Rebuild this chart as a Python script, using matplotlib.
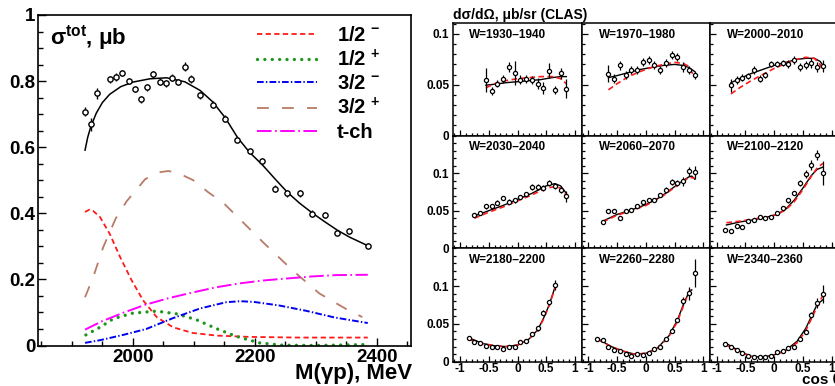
import numpy as np
import matplotlib
matplotlib.use('Agg')
import matplotlib.pyplot as plt
from matplotlib.ticker import MultipleLocator

plt.rcParams['font.family'] = ['Liberation Sans', 'DejaVu Sans']
plt.rcParams['font.weight'] = 'bold'
plt.rcParams['mathtext.fontset'] = 'custom'
plt.rcParams['mathtext.rm'] = 'Liberation Sans:bold'
plt.rcParams['mathtext.bf'] = 'Liberation Sans:bold'
plt.rcParams['mathtext.it'] = 'Liberation Sans:bold'
plt.rcParams['axes.unicode_minus'] = False
plt.rcParams['lines.scale_dashes'] = False

# ---- left panel: total cross section ----
w_data = [1921.6, 1931.4, 1941.7, 1961.9, 1972.2, 1982.5, 1993.0, 2003.3, 2013.6, 2023.4,
          2033.8, 2044.1, 2053.9, 2064.2, 2074.7, 2085.0, 2094.8, 2110.0, 2130.7, 2150.8,
          2171.0, 2191.7, 2212.4, 2232.5, 2252.8, 2273.4, 2293.6, 2314.2, 2334.5, 2354.6, 2385.1]
sig_tot = [0.707, 0.669, 0.763, 0.805, 0.811, 0.824, 0.800, 0.776, 0.745, 0.781,
           0.820, 0.798, 0.793, 0.810, 0.797, 0.844, 0.807, 0.757, 0.729, 0.686,
           0.623, 0.588, 0.558, 0.475, 0.460, 0.460, 0.399, 0.395, 0.341, 0.345, 0.302]
sig_err = [0.014, 0.020, 0.016, 0.011, 0.012, 0.010, 0.010, 0.010, 0.010, 0.010,
           0.010, 0.010, 0.010, 0.010, 0.010, 0.013, 0.012, 0.010, 0.010, 0.010,
           0.008, 0.008, 0.010, 0.012, 0.010, 0.012, 0.010, 0.010, 0.008, 0.008, 0.008]

fit_w = [1921.6, 1926, 1931, 1940, 1950, 1962, 1980, 2000, 2028, 2055, 2085, 2110, 2131,
         2151, 2172, 2191, 2213, 2233, 2253, 2273, 2294, 2314, 2335, 2355, 2385]
fit_sig = [0.591, 0.630, 0.662, 0.703, 0.735, 0.760, 0.783, 0.797, 0.807, 0.810, 0.798,
           0.772, 0.737, 0.690, 0.628, 0.585, 0.545, 0.504, 0.464, 0.431, 0.401, 0.375,
           0.349, 0.328, 0.302]

hm_w = [1921.6, 1928.6, 1935, 1946, 1962, 1979, 1998, 2017, 2039, 2066, 2098, 2137, 2191, 2273, 2385]
hm_sig = [0.404, 0.411, 0.407, 0.389, 0.338, 0.268, 0.197, 0.136, 0.086, 0.055, 0.038, 0.030,
          0.026, 0.024, 0.024]

hp_w = [1923, 1946, 1968, 2000, 2039, 2071, 2104, 2137, 2169, 2207, 2245, 2300, 2385]
hp_sig = [0.032, 0.055, 0.081, 0.098, 0.104, 0.096, 0.078, 0.051, 0.028, 0.008, 0.001, 0.000, 0.003]

tm_w = [1921.6, 1946, 1984, 2022, 2066, 2110, 2153, 2176, 2198, 2240, 2284, 2330, 2385]
tm_sig = [0.008, 0.016, 0.032, 0.050, 0.083, 0.112, 0.131, 0.134, 0.132, 0.121, 0.105, 0.085, 0.068]

tp_w = [1921.6, 1935, 1951.5, 1972, 1990, 2006, 2020, 2039, 2058, 2074, 2099, 2124, 2148,
        2170, 2213, 2262, 2306, 2349, 2376]
tp_sig = [0.146, 0.207, 0.298, 0.385, 0.437, 0.472, 0.503, 0.523, 0.528, 0.522, 0.500, 0.463,
          0.432, 0.392, 0.313, 0.227, 0.157, 0.111, 0.086]

tch_w = [1921.6, 1949, 1984, 2020, 2058, 2097, 2136, 2175, 2215, 2254, 2294, 2333, 2385]
tch_sig = [0.048, 0.073, 0.099, 0.123, 0.143, 0.160, 0.176, 0.188, 0.197, 0.203, 0.209, 0.213, 0.214]

legend_labels = [r'1/2 $^{-}$', r'1/2 $^{+}$', r'3/2 $^{-}$', r'3/2 $^{+}$', 't-ch']

# ---- right panels: CLAS dsigma/dOmega ----
bins = ['W=1930\u20131940', 'W=1970\u20131980', 'W=2000\u20132010',
        'W=2030\u20132040', 'W=2060\u20132070', 'W=2100\u20132120',
        'W=2180\u20132200', 'W=2260\u20132280', 'W=2340\u20132360']

pts_cos = [
    [-0.55, -0.45, -0.35, -0.25, -0.15, -0.05, 0.05, 0.15, 0.25, 0.35, 0.45, 0.55, 0.65, 0.75, 0.85],
    [-0.65, -0.55, -0.45, -0.35, -0.25, -0.15, -0.05, 0.05, 0.15, 0.25, 0.35, 0.45, 0.55, 0.65, 0.75, 0.85],
    [-0.75, -0.65, -0.55, -0.45, -0.35, -0.25, -0.15, -0.05, 0.05, 0.15, 0.25, 0.35, 0.45, 0.55, 0.65, 0.75, 0.85],
    [-0.75, -0.65, -0.55, -0.45, -0.35, -0.25, -0.15, -0.05, 0.05, 0.15, 0.25, 0.35, 0.45, 0.55, 0.65, 0.75, 0.85],
    [-0.75, -0.65, -0.55, -0.45, -0.35, -0.25, -0.15, -0.05, 0.05, 0.15, 0.25, 0.35, 0.45, 0.55, 0.65, 0.75, 0.85],
    [-0.85, -0.75, -0.65, -0.55, -0.45, -0.35, -0.25, -0.15, -0.05, 0.05, 0.15, 0.25, 0.35, 0.45, 0.55, 0.65, 0.75, 0.85],
    [-0.85, -0.75, -0.65, -0.55, -0.45, -0.35, -0.25, -0.15, -0.05, 0.05, 0.15, 0.25, 0.35, 0.45, 0.55, 0.65],
    [-0.85, -0.75, -0.65, -0.55, -0.45, -0.35, -0.25, -0.15, -0.05, 0.05, 0.15, 0.25, 0.35, 0.45, 0.55, 0.65, 0.75, 0.85],
    [-0.85, -0.75, -0.65, -0.55, -0.45, -0.35, -0.25, -0.15, -0.05, 0.05, 0.15, 0.25, 0.35, 0.45, 0.55, 0.65, 0.75, 0.85],
]
pts_val = [
    [0.0545, 0.0439, 0.0512, 0.0554, 0.0677, 0.0617, 0.0551, 0.0554, 0.0545, 0.0512, 0.0469, 0.0637, 0.0452, 0.0611, 0.0462],
    [0.0610, 0.0561, 0.0693, 0.0594, 0.0644, 0.0644, 0.0726, 0.0743, 0.0693, 0.0644, 0.0710, 0.0792, 0.0776, 0.0677, 0.0644, 0.0594],
    [0.0495, 0.0545, 0.0571, 0.0584, 0.0644, 0.0561, 0.0594, 0.0703, 0.0700, 0.0710, 0.0700, 0.0743, 0.0677, 0.0693, 0.0710, 0.0677, 0.0683],
    [0.0444, 0.0467, 0.0556, 0.0564, 0.0609, 0.0671, 0.0622, 0.0636, 0.0680, 0.0720, 0.0813, 0.0813, 0.0800, 0.0867, 0.0822, 0.0778, 0.0689],
    [0.0347, 0.0498, 0.0498, 0.0400, 0.0498, 0.0511, 0.0569, 0.0613, 0.0644, 0.0644, 0.0711, 0.0778, 0.0876, 0.0867, 0.0889, 0.1022, 0.1009],
    [0.0244, 0.0231, 0.0298, 0.0284, 0.0369, 0.0378, 0.0413, 0.0400, 0.0413, 0.0467, 0.0533, 0.0636, 0.0733, 0.0867, 0.0991, 0.1111, 0.1244, 0.1000],
    [0.0308, 0.0256, 0.0242, 0.0211, 0.0198, 0.0198, 0.0167, 0.0194, 0.0189, 0.0256, 0.0273, 0.0361, 0.0440, 0.0648, 0.0784, 0.1009],
    [0.0295, 0.0286, 0.0198, 0.0154, 0.0145, 0.0101, 0.0075, 0.0097, 0.0084, 0.0110, 0.0163, 0.0198, 0.0300, 0.0405, 0.0551, 0.0802, 0.0903, 0.1176],
    [0.0233, 0.0198, 0.0154, 0.0110, 0.0075, 0.0057, 0.0066, 0.0066, 0.0075, 0.0132, 0.0141, 0.0176, 0.0198, 0.0295, 0.0396, 0.0617, 0.0780, 0.0894],
]
pts_err = [
    [0.0115, 0.004, 0.003, 0.004, 0.005, 0.012, 0.004, 0.004, 0.004, 0.005, 0.006, 0.0075, 0.004, 0.005, 0.009],
    [0.008, 0.004, 0.0045, 0.004, 0.004, 0.004, 0.004, 0.004, 0.004, 0.004, 0.004, 0.004, 0.004, 0.005, 0.004, 0.004],
    [0.0066, 0.004, 0.003, 0.003, 0.004, 0.003, 0.003, 0.003, 0.003, 0.003, 0.004, 0.004, 0.004, 0.004, 0.005, 0.005, 0.006],
    [0.002, 0.003, 0.003, 0.003, 0.003, 0.003, 0.003, 0.003, 0.003, 0.003, 0.004, 0.004, 0.004, 0.004, 0.004, 0.0045, 0.0067],
    [0.002, 0.003, 0.003, 0.002, 0.002, 0.002, 0.002, 0.002, 0.003, 0.003, 0.003, 0.004, 0.004, 0.004, 0.0065, 0.0065, 0.009],
    [0.002, 0.002, 0.002, 0.002, 0.002, 0.002, 0.002, 0.002, 0.002, 0.002, 0.002, 0.003, 0.003, 0.004, 0.005, 0.0065, 0.0065, 0.0155],
    [0.002, 0.002, 0.002, 0.002, 0.002, 0.002, 0.002, 0.002, 0.002, 0.002, 0.002, 0.002, 0.003, 0.003, 0.0035, 0.0066],
    [0.002, 0.002, 0.002, 0.002, 0.002, 0.002, 0.002, 0.002, 0.002, 0.002, 0.002, 0.002, 0.002, 0.002, 0.003, 0.0055, 0.009, 0.0185],
    [0.002, 0.002, 0.002, 0.002, 0.002, 0.002, 0.002, 0.002, 0.002, 0.002, 0.002, 0.002, 0.002, 0.002, 0.002, 0.004, 0.0066, 0.012],
]

curve_cos = [
    [-0.55, -0.4, -0.2, 0.0, 0.2, 0.4, 0.6, 0.75, 0.85],
    [-0.65, -0.5, -0.3, -0.1, 0.1, 0.3, 0.5, 0.65, 0.75, 0.85],
    [-0.75, -0.6, -0.4, -0.2, 0.0, 0.2, 0.4, 0.55, 0.7, 0.8, 0.85],
    [-0.75, -0.5, -0.25, 0.0, 0.25, 0.5, 0.65, 0.75, 0.85],
    [-0.75, -0.5, -0.25, 0.0, 0.25, 0.5, 0.65, 0.75, 0.8, 0.85],
    [-0.83, -0.6, -0.35, -0.1, 0.05, 0.2, 0.35, 0.5, 0.65, 0.75, 0.85],
    [-0.83, -0.6, -0.4, -0.2, 0.0, 0.2, 0.35, 0.45, 0.55, 0.65],
    [-0.83, -0.6, -0.4, -0.2, 0.0, 0.2, 0.4, 0.55, 0.65, 0.75, 0.8],
    [-0.83, -0.6, -0.4, -0.2, 0.0, 0.2, 0.4, 0.55, 0.65, 0.75, 0.85],
]
curve_black = [
    [0.0495, 0.0505, 0.052, 0.053, 0.054, 0.055, 0.057, 0.058, 0.058],
    [0.057, 0.059, 0.062, 0.065, 0.067, 0.069, 0.070, 0.069, 0.067, 0.063],
    [0.052, 0.056, 0.061, 0.065, 0.069, 0.072, 0.075, 0.076, 0.076, 0.073, 0.069],
    [0.043, 0.050, 0.057, 0.065, 0.073, 0.083, 0.086, 0.083, 0.073],
    [0.036, 0.045, 0.051, 0.058, 0.068, 0.082, 0.090, 0.095, 0.096, 0.092],
    [0.031, 0.035, 0.038, 0.042, 0.045, 0.052, 0.064, 0.080, 0.097, 0.105, 0.108],
    [0.031, 0.024, 0.021, 0.020, 0.022, 0.030, 0.042, 0.057, 0.075, 0.098],
    [0.030, 0.020, 0.014, 0.010, 0.011, 0.018, 0.034, 0.055, 0.075, 0.092, 0.095],
    [0.024, 0.014, 0.007, 0.006, 0.009, 0.015, 0.027, 0.044, 0.060, 0.076, 0.082],
]
curve_red = [
    [0.047, 0.051, 0.054, 0.056, 0.057, 0.058, 0.058, 0.056, 0.051],
    [0.045, 0.051, 0.058, 0.063, 0.067, 0.070, 0.072, 0.071, 0.068, 0.057],
    [0.041, 0.047, 0.054, 0.060, 0.066, 0.071, 0.075, 0.077, 0.076, 0.070, 0.063],
    [0.040, 0.048, 0.055, 0.063, 0.071, 0.080, 0.082, 0.080, 0.070],
    [0.035, 0.044, 0.050, 0.057, 0.067, 0.081, 0.089, 0.094, 0.094, 0.093],
    [0.034, 0.036, 0.039, 0.042, 0.045, 0.051, 0.062, 0.078, 0.096, 0.107, 0.113],
    [0.029, 0.024, 0.021, 0.020, 0.022, 0.030, 0.041, 0.056, 0.074, 0.097],
    [0.029, 0.020, 0.014, 0.010, 0.011, 0.017, 0.033, 0.053, 0.073, 0.092, 0.100],
    [0.022, 0.013, 0.007, 0.006, 0.009, 0.014, 0.025, 0.041, 0.057, 0.073, 0.088],
]
row_ymax = [0.1105, 0.150, 0.150]

# ---- figure ----
W, H = 835, 386
fig = plt.figure(figsize=(W / 100, H / 100), dpi=100)


def px_axes(left, top, right, bottom):
    return fig.add_axes([left / W, 1 - bottom / H, (right - left) / W, (bottom - top) / H])


def fmt(v):
    return ('%g' % v)


ax = px_axes(38.3, 15, 410.5, 345.5)
ax.errorbar(w_data, sig_tot, yerr=sig_err, fmt='o', ms=3.8, mfc='white', mec='black',
            mew=1.0, ecolor='black', elinewidth=1.0, capsize=0, zorder=5)
ax.plot(fit_w, fit_sig, color='black', lw=1.1, zorder=4)
ax.plot(hm_w, hm_sig, color='#ff1a1a', lw=1.3, dashes=(3.8, 2.4), label=legend_labels[0])
ax.plot(hp_w, hp_sig, color='#1e961e', lw=2.4, dashes=(0.01, 5.3), dash_capstyle='round',
        label=legend_labels[1])
ax.plot(tm_w, tm_sig, color='#0000f0', lw=1.4, dashes=(4.8, 1.6, 1.0, 1.6),
        label=legend_labels[2])
ax.plot(tp_w, tp_sig, color='#b97b68', lw=1.3, dashes=(8.5, 9.5), label=legend_labels[3])
ax.plot(tch_w, tch_sig, color='#ff00ff', lw=1.4, dashes=(10.5, 2.5, 1.2, 2.5),
        label=legend_labels[4])

ax.set_xlim(1845, 2455)
ax.set_ylim(0, 1)
ax.set_xticks([2000, 2200, 2400])
ax.set_xticklabels([fmt(v) for v in [2000, 2200, 2400]])
ax.set_yticks([0, 0.2, 0.4, 0.6, 0.8, 1.0])
ax.set_yticklabels([fmt(v) for v in [0, 0.2, 0.4, 0.6, 0.8, 1.0]])
ax.xaxis.set_minor_locator(MultipleLocator(50))
ax.yaxis.set_minor_locator(MultipleLocator(0.05))
ax.tick_params(which='both', direction='in', labelsize=13.5, width=1.0)
ax.tick_params(which='major', length=6)
ax.tick_params(which='minor', length=3.5)
ax.tick_params(axis='y', pad=2)
ax.tick_params(axis='x', pad=2.5)
for sp in ax.spines.values():
    sp.set_linewidth(1.2)

ax.text(0.031, 0.912, r'σ$^{\mathbf{tot}}$, μb', transform=ax.transAxes, fontsize=16,
        va='baseline', ha='left')
ax.legend(loc='upper left', bbox_to_anchor=(0.5868, 0.967), frameon=False, fontsize=14.5,
          handlelength=2.98, handletextpad=1.0, labelspacing=0.2, borderpad=0,
          borderaxespad=0)
fig.text(412 / W, 1 - 379.5 / H, 'M(γp), MeV', ha='right', va='baseline', fontsize=16)

# right grid
col_left = [453.3, 581.6, 709.9]
col_w = 128.3
row_top = [23.3, 135.5, 248.3]
row_bot = [135.5, 248.3, 361.7]
label_x = [0.125, 0.135, 0.133]

for i in range(9):
    r, c = divmod(i, 3)
    a = px_axes(col_left[c], row_top[r], col_left[c] + col_w, row_bot[r])
    a.plot(curve_cos[i], curve_black[i], color='black', lw=1.0, zorder=3)
    a.plot(curve_cos[i], curve_red[i], color='#ff1a1a', lw=1.2, dashes=(4.0, 2.5), zorder=4)
    a.errorbar(pts_cos[i], pts_val[i], yerr=pts_err[i], fmt='o', ms=3.0, mfc='white',
               mec='black', mew=0.9, ecolor='black', elinewidth=0.9, capsize=0, zorder=5)
    a.set_xlim(-1.117, 1.115)
    a.set_ylim(0, row_ymax[r])
    a.set_xticks([-1, -0.5, 0, 0.5, 1])
    a.set_yticks([0, 0.05, 0.1])
    a.xaxis.set_minor_locator(MultipleLocator(0.1))
    a.yaxis.set_minor_locator(MultipleLocator(0.01))
    a.tick_params(which='both', direction='in', labelsize=8.5, width=0.9)
    a.tick_params(which='major', length=4.5)
    a.tick_params(which='minor', length=2.2)
    a.tick_params(axis='y', pad=3)
    a.tick_params(axis='x', pad=1.0)
    if c == 0:
        a.set_yticklabels([fmt(v) for v in [0, 0.05, 0.1]])
    else:
        a.set_yticklabels([])
    if r == 2:
        a.set_xticklabels([fmt(v) for v in [-1, -0.5, 0, 0.5, 1]])
    else:
        a.set_xticklabels([])
    for sp in a.spines.values():
        sp.set_linewidth(1.1)
    a.text(label_x[c], 0.898, bins[i], transform=a.transAxes, fontsize=8.5, va='center',
           ha='left')

fig.text(453 / W, 1 - 15.5 / H, 'dσ/dΩ, μb/sr (CLAS)', ha='left', va='center', fontsize=10)
fig.text(802 / W, 1 - 384 / H, 'cos θ', ha='left', va='baseline', fontsize=11)

fig.savefig('out.png', dpi=100)
